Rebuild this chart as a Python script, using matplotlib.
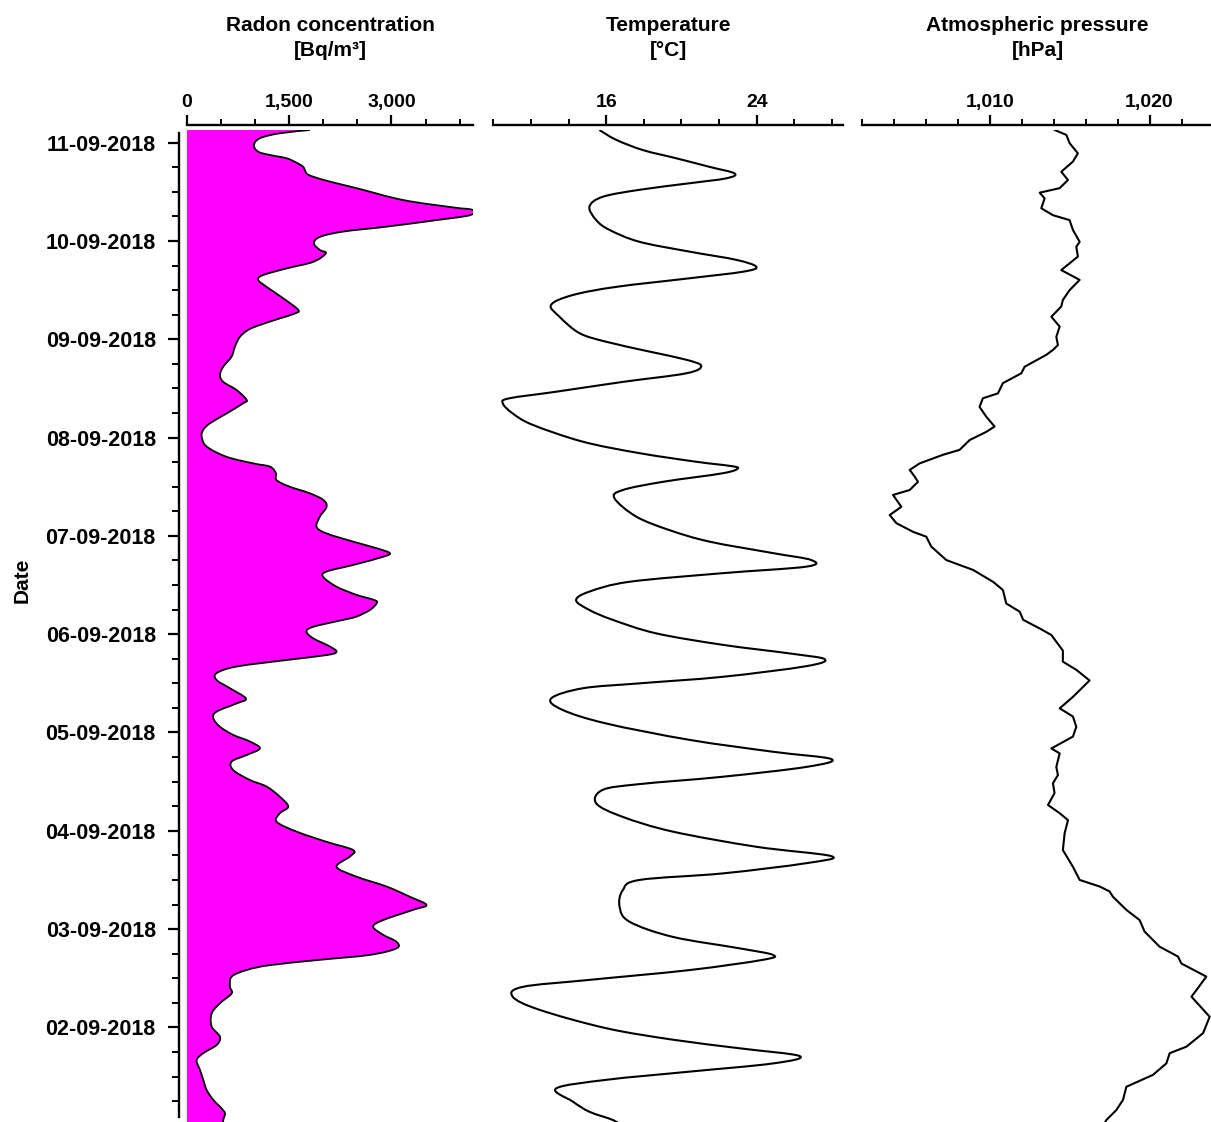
import numpy as np
import matplotlib
matplotlib.use("Agg")
import matplotlib.pyplot as plt
from matplotlib import font_manager
from matplotlib.path import Path
from matplotlib.patches import PathPatch
from matplotlib.ticker import MultipleLocator, FixedLocator, FuncFormatter, NullFormatter

# ---------------------------------------------------------------------------
# Data: hours since 01-09-2018 00:00, listed from newest to oldest sample
# ---------------------------------------------------------------------------
radon_hours = [243.1, 242.3, 241.1, 239.4, 237.8, 237.0, 236.2, 235.1, 234.1, 232.5,
               231.7, 230.5, 228.9, 226.0, 224.2, 223.6, 222.3, 221.1, 219.5, 218.3,
               217.0, 215.4, 213.8, 213.0, 210.9, 209.3, 207.7, 206.5, 204.8, 202.0,
               199.2, 198.3, 197.1, 195.5, 194.3, 192.6, 190.2, 187.8, 185.3, 183.3,
               181.6, 179.6, 177.2, 176.4, 173.9, 171.5, 169.9, 168.2, 165.8, 163.3,
               161.7, 160.9, 159.3, 157.6, 156.0, 154.4, 152.8, 151.1, 148.7, 146.2,
               144.6, 142.6, 141.0, 139.8, 138.9, 136.9, 135.3, 134.0, 131.6, 129.6,
               128.3, 127.5, 125.9, 124.3, 123.5, 121.8, 120.6, 119.0, 117.0, 115.7,
               114.9, 113.7, 112.1, 110.5, 108.8, 106.8, 104.3, 103.1, 101.1, 99.5,
               97.4, 95.4, 93.8, 92.1, 90.5, 88.9, 86.8, 84.4, 82.8, 80.3,
               77.9, 76.3, 74.2, 71.8, 69.3, 67.3, 65.7, 63.2, 60.8, 58.4,
               55.9, 53.9, 52.7, 50.2, 48.6, 46.6, 44.9, 43.3, 41.7, 40.5,
               39.2, 38.0, 36.4, 33.9, 32.3, 29.9, 27.4, 24.2, 21.7, 19.7,
               17.7, 16.0, 13.6, 11.2, 8.7, 6.3, 4.2, 3.0, 1.4, 0.0]
radon_bq = [1805, 1366, 1073, 985, 1048, 1220, 1464, 1610, 1707, 1757,
            1853, 2098, 2489, 3171, 3903, 4185, 4150, 3660, 2928, 2293,
            1952, 1864, 1952, 2039, 1853, 1464, 1122, 1048, 1171, 1415,
            1634, 1585, 1366, 1073, 902, 780, 707, 659, 536, 488,
            536, 732, 878, 829, 586, 341, 243, 220, 293, 586,
            975, 1220, 1307, 1318, 1512, 1805, 2000, 2050, 1952, 1903,
            2050, 2439, 2782, 2976, 2879, 2439, 2050, 2000, 2196, 2489,
            2757, 2782, 2684, 2489, 2293, 1853, 1757, 1853, 2098, 2196,
            2050, 1464, 732, 439, 439, 634, 868, 732, 439, 390,
            488, 683, 927, 1073, 878, 659, 683, 927, 1171, 1366,
            1488, 1366, 1318, 1610, 2050, 2439, 2391, 2196, 2489, 2928,
            3269, 3514, 3318, 2879, 2732, 2879, 3074, 3074, 2684, 1952,
            1220, 878, 659, 634, 659, 488, 366, 366, 488, 439,
            243, 146, 195, 243, 293, 390, 512, 561, 536, 530]

temp_hours = [243.1, 240.7, 238.2, 236.2, 234.1, 232.5, 231.3, 230.1, 228.5, 226.8,
              224.4, 221.1, 218.7, 215.8, 213.4, 211.4, 209.7, 208.5, 206.9, 204.8,
              202.8, 200.4, 197.5, 193.5, 191.4, 189.0, 187.0, 185.5, 183.7, 181.6,
              179.2, 177.6, 176.4, 173.9, 171.1, 167.0, 164.2, 162.1, 161.1, 160.5,
              159.3, 157.2, 155.2, 153.2, 148.7, 145.4, 142.6, 139.8, 138.1, 136.5,
              134.9, 132.8, 130.4, 128.3, 125.9, 123.5, 120.2, 117.4, 115.3, 113.9,
              112.2, 109.6, 108.0, 106.8, 104.3, 101.5, 98.2, 94.2, 91.3, 89.5,
              87.6, 85.2, 83.4, 82.0, 78.7, 75.4, 71.8, 68.1, 65.8, 64.1,
              61.6, 60.0, 57.5, 53.5, 49.8, 46.1, 43.3, 41.7, 40.5, 38.0,
              35.6, 33.9, 31.5, 28.3, 23.8, 21.0, 18.9, 17.0, 15.2, 13.2,
              11.2, 9.1, 5.9, 3.4, 1.4, 0.0]
temp_c = [15.64, 16.53, 17.95, 19.72, 21.49, 22.82, 22.38, 20.43, 17.77, 15.82,
          15.11, 15.47, 16.18, 17.77, 20.43, 22.91, 23.98, 23.27, 20.43, 16.53,
          14.22, 13.07, 13.52, 14.58, 16.00, 18.30, 20.26, 21.05, 20.26, 16.88,
          13.34, 10.86, 10.50, 11.03, 12.10, 14.76, 17.77, 20.79, 22.56, 23.00,
          22.20, 19.01, 16.88, 16.44, 17.60, 19.37, 21.49, 24.86, 26.90, 26.64,
          22.20, 17.24, 15.11, 14.40, 15.11, 16.35, 18.66, 22.20, 25.75, 27.61,
          26.64, 22.20, 17.77, 14.76, 13.07, 13.69, 16.00, 20.43, 24.86, 27.97,
          26.64, 22.20, 17.77, 15.82, 15.47, 16.88, 19.54, 23.98, 27.97, 26.64,
          22.20, 17.77, 16.88, 16.71, 17.24, 19.54, 23.09, 24.86, 24.33, 20.43,
          15.11, 11.57, 11.03, 12.45, 16.00, 19.54, 23.09, 26.28, 24.86, 20.43,
          16.00, 13.34, 14.22, 15.11, 16.35, 16.80]

pres_hours = [243.1, 241.9, 239.9, 237.4, 235.4, 232.9, 230.9, 228.9, 227.8, 226.4,
              224.0, 222.3, 221.1, 218.7, 215.8, 214.6, 212.2, 208.9, 206.5, 204.0,
              201.6, 200.0, 197.5, 195.1, 192.6, 190.6, 189.4, 188.2, 185.3, 183.7,
              181.3, 178.8, 177.6, 175.5, 173.1, 170.7, 169.4, 167.4, 165.0, 163.8,
              161.7, 160.1, 158.5, 157.2, 155.2, 154.0, 151.1, 149.1, 147.1, 145.0,
              143.8, 141.4, 138.1, 135.7, 132.8, 130.8, 127.5, 125.5, 123.5, 121.4,
              119.8, 116.0, 113.3, 111.3, 108.7, 104.7, 101.9, 99.9, 97.4, 95.0,
              92.1, 90.9, 87.6, 85.6, 83.6, 81.2, 78.3, 76.3, 74.6, 71.4,
              67.3, 63.2, 60.0, 58.4, 57.2, 55.9, 52.7, 50.2, 47.4, 43.7,
              41.3, 39.6, 36.4, 33.1, 31.5, 26.6, 22.6, 19.3, 17.7, 15.2,
              12.4, 9.5, 6.3, 3.8, 1.4, 0.0]
pres_hpa = [1014.07, 1014.80, 1015.00, 1015.52, 1015.21, 1014.48, 1014.90, 1014.38, 1013.13, 1013.44,
            1013.23, 1013.96, 1015.00, 1015.21, 1015.63, 1015.42, 1015.52, 1014.48, 1015.63, 1015.00,
            1014.58, 1014.48, 1013.86, 1014.38, 1014.17, 1014.27, 1013.96, 1013.54, 1012.19, 1011.98,
            1010.83, 1010.52, 1009.58, 1009.37, 1009.79, 1010.31, 1009.79, 1008.75, 1008.12, 1007.08,
            1005.62, 1005.00, 1005.31, 1005.52, 1005.00, 1003.96, 1004.48, 1003.75, 1004.17, 1005.21,
            1006.04, 1006.35, 1007.29, 1008.96, 1010.21, 1010.83, 1011.04, 1011.88, 1012.10, 1013.13,
            1013.86, 1014.58, 1014.58, 1015.42, 1016.25, 1015.21, 1014.38, 1015.21, 1015.42, 1015.21,
            1013.86, 1014.38, 1014.17, 1014.27, 1013.96, 1014.06, 1013.65, 1014.38, 1014.90, 1014.69,
            1014.58, 1015.21, 1015.63, 1016.88, 1017.50, 1017.71, 1018.55, 1019.38, 1019.69, 1020.63,
            1021.78, 1021.99, 1023.55, 1022.93, 1022.62, 1023.76, 1023.35, 1022.31, 1021.26, 1021.05,
            1020.21, 1018.55, 1018.34, 1017.92, 1017.30, 1017.10]

date_labels = ["02-09-2018", "03-09-2018", "04-09-2018", "05-09-2018", "06-09-2018",
               "07-09-2018", "08-09-2018", "09-09-2018", "10-09-2018", "11-09-2018"]

panel_titles = ["Radon concentration\n[Bq/m\u00b3]", "Temperature\n[\u00b0C]",
                "Atmospheric pressure\n[hPa]"]

# ---------------------------------------------------------------------------
# Fonts
# ---------------------------------------------------------------------------
_names = {f.name for f in font_manager.fontManager.ttflist}
FONT = "Liberation Sans" if "Liberation Sans" in _names else "DejaVu Sans"

W, H, DPI = 1211, 1122, 100
fig = plt.figure(figsize=(W / DPI, H / DPI), dpi=DPI)
fig.patch.set_facecolor("white")

PX_PER_HOUR = 98.3 / 24.0
Y_TOP_PX = 130.0
Y_MAX_H = 243.1
y_bot_px = Y_TOP_PX + Y_MAX_H * PX_PER_HOUR


def smooth_path(xs, ys, baseline=None):
    """Smoothed (Catmull-Rom style) path through the measured samples.

    With a baseline the path is closed back along x = baseline for filling."""
    pts = np.column_stack([np.asarray(xs, float), np.asarray(ys, float)])
    n = len(pts)
    verts = [pts[0]]
    codes = [Path.MOVETO]
    for i in range(n - 1):
        p0 = pts[i - 1] if i > 0 else pts[i]
        p1, p2 = pts[i], pts[i + 1]
        p3 = pts[i + 2] if i + 2 < n else pts[i + 1]
        verts += [p1 + (p2 - p0) / 6.0, p2 - (p3 - p1) / 6.0, p2]
        codes += [Path.CURVE4] * 3
    if baseline is not None:
        verts += [(baseline, pts[-1, 1]), (baseline, pts[0, 1]), pts[0]]
        codes += [Path.LINETO, Path.LINETO, Path.CLOSEPOLY]
    return Path(verts, codes)


def style_ticklabels(ax):
    for lab in ax.get_xticklabels() + ax.get_yticklabels():
        lab.set_fontfamily(FONT)
        lab.set_fontweight("bold")


def add_panel(x0, x1):
    rect = [x0 / W, 1 - y_bot_px / H, (x1 - x0) / W, (y_bot_px - Y_TOP_PX) / H]
    ax = fig.add_axes(rect)
    ax.set_ylim(0, Y_MAX_H)
    ax.patch.set_alpha(0)
    for s in ("bottom", "right", "left"):
        ax.spines[s].set_visible(False)
    ax.spines["top"].set_position(("outward", 3.8))
    ax.spines["top"].set_linewidth(1.7)
    ax.xaxis.set_ticks_position("top")
    ax.xaxis.set_label_position("top")
    ax.tick_params(axis="x", which="major", direction="out", length=7, width=1.6,
                   pad=3, labelsize=14)
    ax.tick_params(axis="x", which="minor", direction="out", length=4, width=1.4)
    ax.set_yticks([])
    return ax


def thousands(v, _pos):
    return f"{v:,.0f}"


# Radon concentration panel
ax_rn = add_panel(186.7, 473.3)
ax_rn.set_xlim(0, 4200)
ax_rn.xaxis.set_major_locator(FixedLocator([0, 1500, 3000]))
ax_rn.xaxis.set_minor_locator(MultipleLocator(500))
ax_rn.xaxis.set_major_formatter(FuncFormatter(thousands))
ax_rn.add_patch(PathPatch(smooth_path(radon_bq, radon_hours, baseline=0),
                          facecolor="#ff00ff", edgecolor="none", zorder=2))
ax_rn.add_patch(PathPatch(smooth_path(radon_bq, radon_hours), fill=False,
                          edgecolor="black", lw=1.3, joinstyle="round", zorder=3))

# Date axis on the radon panel
ax_rn.spines["left"].set_visible(True)
ax_rn.spines["left"].set_position(("outward", 5.2))
ax_rn.spines["left"].set_linewidth(1.7)
ax_rn.spines["left"].set_bounds(2.1, 242.4)
day_pos = [24.0 * (i + 1) for i in range(len(date_labels))]
ax_rn.yaxis.set_major_locator(FixedLocator(day_pos))
ax_rn.yaxis.set_minor_locator(MultipleLocator(6))
ax_rn.set_yticklabels(date_labels)
ax_rn.yaxis.set_minor_formatter(NullFormatter())
ax_rn.tick_params(axis="y", which="major", direction="out", length=8, width=1.6,
                  pad=9, labelsize=15.5)
ax_rn.tick_params(axis="y", which="minor", direction="out", length=5, width=1.4)
style_ticklabels(ax_rn)

# Temperature panel
ax_t = add_panel(493.3, 843.3)
ax_t.set_xlim(10, 28.6)
ax_t.xaxis.set_major_locator(FixedLocator([16, 24]))
ax_t.xaxis.set_minor_locator(MultipleLocator(2))
ax_t.add_patch(PathPatch(smooth_path(temp_c, temp_hours), fill=False,
                         edgecolor="black", lw=1.5, joinstyle="round"))
style_ticklabels(ax_t)

# Atmospheric pressure panel
ax_p = add_panel(861.7, 1213.5)
ax_p.set_xlim(1002, 1024)
ax_p.xaxis.set_major_locator(FixedLocator([1010, 1020]))
ax_p.xaxis.set_minor_locator(MultipleLocator(2))
ax_p.xaxis.set_major_formatter(FuncFormatter(thousands))
ax_p.plot(pres_hpa, pres_hours, color="black", lw=1.5, solid_joinstyle="round")
style_ticklabels(ax_p)

# Panel headings
for ax, title in zip((ax_rn, ax_t, ax_p), panel_titles):
    bb = ax.get_position()
    fig.text(bb.x0 + bb.width / 2, 1 - 38 / H, title, ha="center", va="center",
             fontsize=15, fontweight="bold", family=FONT, linespacing=1.45)

fig.text(22 / W, 1 - 580 / H, "Date", rotation=90, ha="center", va="center",
         fontsize=15, fontweight="bold", family=FONT)

fig.savefig("out.png", dpi=DPI, facecolor="white")
